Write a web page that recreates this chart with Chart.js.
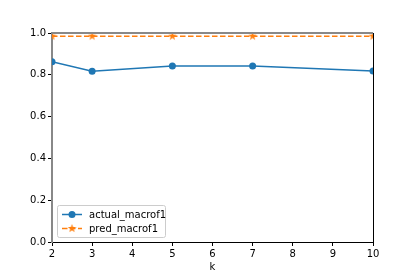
<!DOCTYPE html>
<html>
<head>
<meta charset="utf-8">
<script src="https://cdn.jsdelivr.net/npm/chart.js@4"></script>
<style>
  html, body { margin: 0; padding: 0; background: #fff; }
  #wrap { width: 415px; height: 277px; }
</style>
</head>
<body>
<div id="wrap"><canvas id="chart" width="415" height="277"></canvas></div>
<script>
// donnees
const kValues = [2, 3, 5, 7, 10];
const actualMacroF1 = [0.863, 0.817, 0.842, 0.842, 0.818];
const predMacroF1 = [0.985, 0.985, 0.985, 0.985, 0.985];
const xTicks = [2, 3, 4, 5, 6, 7, 8, 9, 10];
const yTicks = [0.0, 0.2, 0.4, 0.6, 0.8, 1.0];

const BLUE = '#1f77b4';
const ORANGE = '#ff7f0e';
const FONT = 'DejaVu Sans';
const DASH = [5.5, 2.5];

// etoile pleine facon matplotlib
function makeStar(size, color) {
  const c = document.createElement('canvas');
  c.width = size; c.height = size;
  const g = c.getContext('2d');
  const cx = size / 2, cy = size / 2, R = size / 2, r = R * 0.4;
  g.beginPath();
  for (let i = 0; i < 10; i++) {
    const rad = i % 2 === 0 ? R : r;
    const a = -Math.PI / 2 + i * Math.PI / 5;
    g.lineTo(cx + rad * Math.cos(a), cy + rad * Math.sin(a));
  }
  g.closePath();
  g.fillStyle = color;
  g.fill();
  return c;
}
const star = makeStar(9, ORANGE);

function pts(ys) {
  return kValues.map((k, i) => ({ x: k, y: ys[i] }));
}

// cadre haut / droite + legende
const framePlugin = {
  id: 'frame',
  afterDatasetsDraw(chart) {
    const { ctx, chartArea: a } = chart;
    ctx.save();
    ctx.strokeStyle = '#888';
    ctx.lineWidth = 2;
    ctx.beginPath();
    ctx.moveTo(a.left, a.top); ctx.lineTo(a.right, a.top);
    ctx.stroke();
    ctx.strokeStyle = '#000';
    ctx.lineWidth = 1;
    ctx.beginPath();
    ctx.moveTo(a.right + 0.5, a.top); ctx.lineTo(a.right + 0.5, a.bottom);
    ctx.stroke();

    // legende
    const lx = a.left + 5, ly = a.bottom - 37, lw = 108, lh = 32;
    ctx.fillStyle = 'rgba(255,255,255,0.8)';
    ctx.strokeStyle = '#ccc';
    ctx.lineWidth = 1;
    ctx.beginPath();
    ctx.roundRect(lx + 0.5, ly + 0.5, lw, lh, 2);
    ctx.fill();
    ctx.stroke();

    const rows = [
      { label: 'actual_macrof1', color: BLUE, dash: [], marker: 'circle' },
      { label: 'pred_macrof1', color: ORANGE, dash: DASH, marker: 'star' }
    ];
    rows.forEach((r, i) => {
      const y = ly + 9.5 + i * 14;
      ctx.strokeStyle = r.color;
      ctx.lineWidth = 1.5;
      ctx.setLineDash(r.dash);
      ctx.beginPath();
      ctx.moveTo(lx + 5, y); ctx.lineTo(lx + 25, y);
      ctx.stroke();
      ctx.setLineDash([]);
      if (r.marker === 'circle') {
        ctx.fillStyle = r.color;
        ctx.beginPath();
        ctx.arc(lx + 15, y, 3.5, 0, Math.PI * 2);
        ctx.fill();
      } else {
        ctx.drawImage(star, lx + 15 - 4.5, y - 4.5);
      }
      ctx.fillStyle = '#000';
      ctx.font = '10px ' + FONT;
      ctx.textBaseline = 'middle';
      ctx.textAlign = 'left';
      ctx.fillText(r.label, lx + 32, y + 0.5);
    });
    ctx.restore();
  }
};

new Chart(document.getElementById('chart'), {
  type: 'line',
  data: {
    datasets: [
      {
        label: 'actual_macrof1',
        data: pts(actualMacroF1),
        borderColor: BLUE,
        backgroundColor: BLUE,
        borderWidth: 1.5,
        pointRadius: 3.5,
        pointBorderWidth: 0,
        pointStyle: 'circle',
        tension: 0,
        clip: 0
      },
      {
        label: 'pred_macrof1',
        data: pts(predMacroF1),
        borderColor: ORANGE,
        backgroundColor: ORANGE,
        borderWidth: 1.5,
        borderDash: DASH,
        pointStyle: star,
        pointRadius: 4.5,
        tension: 0,
        clip: 0
      }
    ]
  },
  options: {
    responsive: false,
    animation: false,
    layout: { padding: { left: 0, top: 33, right: 42, bottom: 0 } },
    plugins: { legend: { display: false }, tooltip: { enabled: false } },
    scales: {
      x: {
        type: 'linear',
        min: 2, max: 10,
        afterFit(s) { s.height = 35; },
        afterBuildTicks(s) { s.ticks = xTicks.map(v => ({ value: v })); },
        grid: { drawOnChartArea: false, tickLength: 4, color: '#000' },
        border: { color: '#000', width: 1 },
        ticks: { color: '#000', font: { family: FONT, size: 10 }, padding: 2, maxRotation: 0 },
        title: { display: true, text: 'k', color: '#000', font: { family: FONT, size: 10 }, padding: { top: 0, bottom: 4 } }
      },
      y: {
        min: 0, max: 1,
        afterFit(s) { s.width = 52; },
        afterBuildTicks(s) { s.ticks = yTicks.map(v => ({ value: v })); },
        grid: { drawOnChartArea: false, tickLength: 4, color: '#000' },
        border: { color: '#888', width: 2 },
        ticks: { color: '#000', font: { family: FONT, size: 10 }, padding: 2, callback: v => v.toFixed(1) }
      }
    }
  },
  plugins: [framePlugin]
});
</script>
</body>
</html>
